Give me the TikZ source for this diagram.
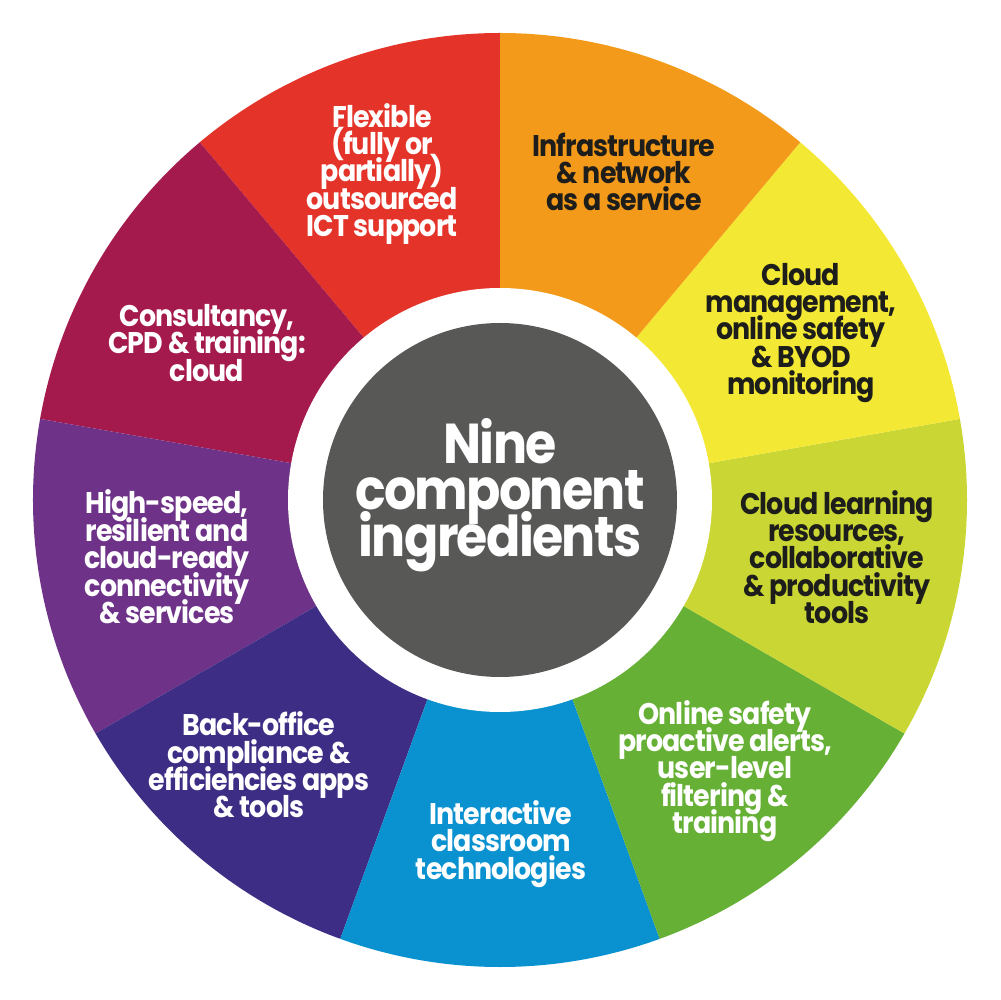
\documentclass[tikz,border=0pt]{standalone}
\usepackage{fontspec}
\setmainfont{Poppins}[FakeStretch=0.9, LetterSpace=-3]
\usepackage{tikz}
\usepackage{xcolor}
\definecolor{seg-red}{HTML}{E4342A}
\definecolor{seg-orange}{HTML}{F39A1B}
\definecolor{seg-yellow}{HTML}{F3E833}
\definecolor{seg-lime}{HTML}{CAD633}
\definecolor{seg-green}{HTML}{65B035}
\definecolor{seg-blue}{HTML}{0A91CF}
\definecolor{seg-indigo}{HTML}{3E2D85}
\definecolor{seg-purple}{HTML}{6E3388}
\definecolor{seg-crimson}{HTML}{A51A4C}
\definecolor{hub-grey}{HTML}{585857}
\definecolor{text-dark}{HTML}{1D1D1B}
\lineskiplimit=-100pt
\tikzset{
    seg-label/.style = {text=white, font=\bfseries\fontsize{17}{15.6}\selectfont, align=center, inner sep=0pt},
    seg-label-dark/.style = {seg-label, text=text-dark},
    hub-label/.style = {text=white, font=\bfseries\fontsize{32}{26.4}\selectfont, align=center, inner sep=0pt},
}

\begin{document}
\begin{tikzpicture}[x=0.02cm, y=0.02cm]
\useasboundingbox (-500,-500) rectangle (500,500);
% wheel segments, 40 degrees each
\fill[seg-red] (0,0) -- (90:467) arc[start angle=90, end angle=130, radius=467] -- cycle;
\fill[seg-crimson] (0,0) -- (130:467) arc[start angle=130, end angle=170, radius=467] -- cycle;
\fill[seg-purple] (0,0) -- (170:467) arc[start angle=170, end angle=210, radius=467] -- cycle;
\fill[seg-indigo] (0,0) -- (210:467) arc[start angle=210, end angle=250, radius=467] -- cycle;
\fill[seg-blue] (0,0) -- (250:467) arc[start angle=250, end angle=290, radius=467] -- cycle;
\fill[seg-green] (0,0) -- (290:467) arc[start angle=290, end angle=330, radius=467] -- cycle;
\fill[seg-lime] (0,0) -- (330:467) arc[start angle=330, end angle=370, radius=467] -- cycle;
\fill[seg-yellow] (0,0) -- (10:467) arc[start angle=10, end angle=50, radius=467] -- cycle;
\fill[seg-orange] (0,0) -- (50:467) arc[start angle=50, end angle=90, radius=467] -- cycle;
% hub
\fill[white] (0,0) circle[radius=212];
\fill[hub-grey] (0,0) circle[radius=177];
\node[hub-label] (hub) at (0,5) {Nine\\component\\ingredients};

\node[seg-label] (flexible) at (-118,326) {Flexible\\(fully or\\partially)\\outsourced\\ICT support};
\node[seg-label-dark] (infra) at (124,328) {Infrastructure\\\& network\\as a service};
\node[seg-label-dark] (cloudmgmt) at (301,167) {Cloud\\management,\\online safety\\\& BYOD\\monitoring};
\node[seg-label-dark] (learning) at (337,-57) {Cloud learning\\resources,\\collaborative\\\& productivity\\tools};
\node[seg-label] (safety) at (225,-271) {Online safety\\proactive alerts,\\user-level\\filtering \&\\training};
\node[seg-label] (classroom) at (1,-344) {Interactive\\classroom\\technologies};
\node[seg-label] (backoffice) at (-241,-265) {Back-office\\compliance \&\\efficiencies apps\\\& tools};
\node[seg-label] (connectivity) at (-333,-57) {High-speed,\\resilient and\\cloud-ready\\connectivity\\\& services};
\node[seg-label] (consultancy) at (-293,157) {Consultancy,\\CPD \& training:\\cloud};
\end{tikzpicture}
\end{document}
